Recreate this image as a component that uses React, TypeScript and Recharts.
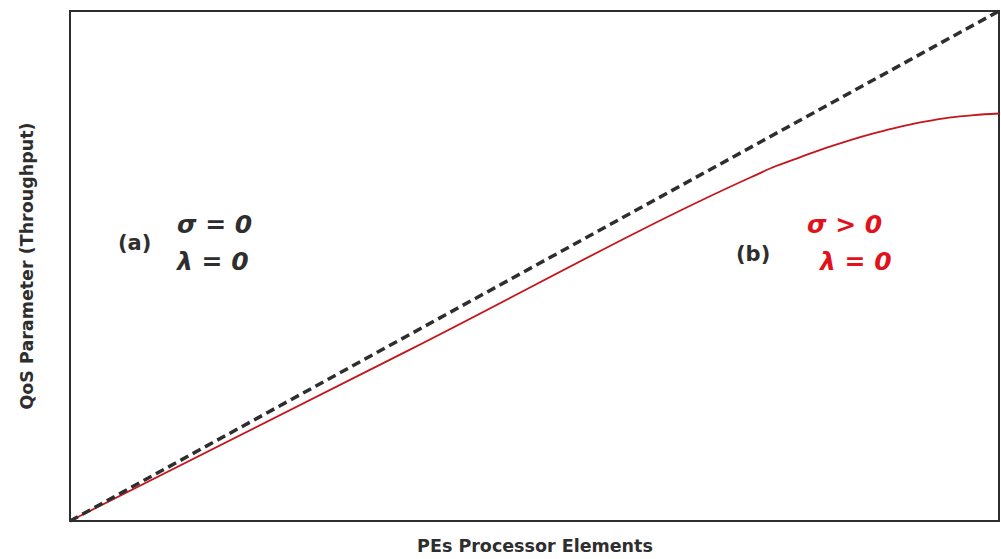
import { LineChart, Line, XAxis, YAxis, ReferenceArea } from "recharts";

// x as % of PEs range, y as % of throughput range
const idealX = [0, 100];
const idealY = [0, 100];
const realX = [0, 36.7, 73.3, 76.0, 78.7, 81.3, 84.0, 86.7, 89.3, 92.0, 94.6, 97.3, 100];
const realY = [0, 33.7, 67.4, 69.6, 71.4, 73.1, 74.7, 76.1, 77.3, 78.3, 79.1, 79.6, 79.9];

const ideal = idealX.map((x, i) => ({ x, y: idealY[i] }));
const real = realX.map((x, i) => ({ x, y: realY[i] }));

const dark = "#2e2e2e";
const red = "#c4161c";
const redText = "#e0121c";
const font = "'DejaVu Sans', sans-serif";

const txt = (left: number, top: number, size: number, color: string, italic: boolean, s: string) => (
  <div
    style={{
      position: "absolute",
      left,
      top,
      fontSize: size,
      fontWeight: 700,
      fontStyle: italic ? "italic" : "normal",
      color,
      fontFamily: font,
      lineHeight: 1,
      whiteSpace: "nowrap",
    }}
  >
    {s}
  </div>
);

export default function App() {
  return (
    <div style={{ position: "absolute", left: 0, top: 0, width: 1001, height: 559, background: "#fff" }}>
      <LineChart width={1001} height={559} margin={{ top: 11, right: 2, left: 70, bottom: 38 }}>
        <XAxis
          type="number"
          dataKey="x"
          domain={[0, 100]}
          tick={false}
          tickLine={false}
          height={0}
          axisLine={{ stroke: dark, strokeWidth: 2 }}
          allowDuplicatedCategory={false}
        />
        <YAxis
          type="number"
          dataKey="y"
          domain={[0, 100]}
          tick={false}
          tickLine={false}
          width={0}
          axisLine={{ stroke: dark, strokeWidth: 2 }}
        />
        <ReferenceArea x1={0} x2={100} y1={0} y2={100} fill="none" stroke={dark} strokeWidth={2} fillOpacity={0} />
        <Line
          data={real}
          dataKey="y"
          type="monotone"
          stroke={red}
          strokeWidth={1.8}
          dot={false}
          isAnimationActive={false}
        />
        <Line
          data={ideal}
          dataKey="y"
          type="linear"
          stroke={dark}
          strokeWidth={3.5}
          strokeDasharray="9 5"
          dot={false}
          isAnimationActive={false}
        />
      </LineChart>
      {txt(118, 233, 21, dark, false, "(a)")}
      {txt(177, 212, 25, dark, true, "σ = 0")}
      {txt(177, 249, 25, dark, true, "λ = 0")}
      {txt(736, 244, 21, dark, false, "(b)")}
      {txt(807, 212, 25, redText, true, "σ > 0")}
      {txt(820, 249, 25, redText, true, "λ = 0")}
      <div
        style={{
          position: "absolute",
          left: 0,
          width: 1070,
          top: 536,
          textAlign: "center",
          fontSize: 17.5,
          fontWeight: 700,
          color: dark,
          fontFamily: font,
        }}
      >
        PEs Processor Elements
      </div>
      <div
        style={{
          position: "absolute",
          left: 27,
          top: 266,
          transform: "translate(-50%, -50%) rotate(-90deg)",
          fontSize: 17.5,
          fontWeight: 700,
          color: dark,
          fontFamily: font,
          whiteSpace: "nowrap",
        }}
      >
        QoS Parameter (Throughput)
      </div>
    </div>
  );
}
